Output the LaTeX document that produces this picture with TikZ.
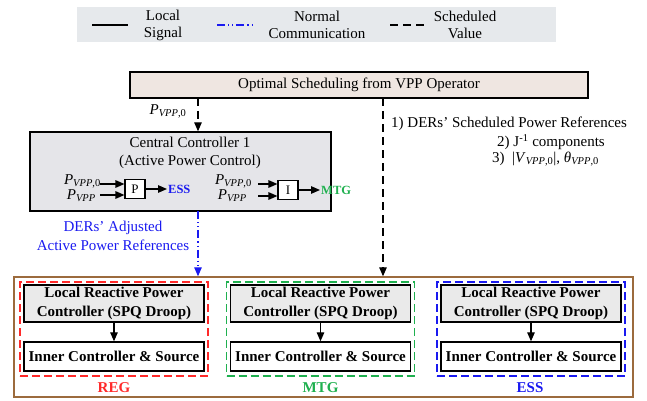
\documentclass[tikz,border=0pt]{standalone}
\usepackage{fontspec}
\setmainfont{Liberation Serif}
\usetikzlibrary{arrows.meta}
\definecolor{legfill}{HTML}{E6E9EC}
\definecolor{vppfill}{HTML}{EFE6E1}
\definecolor{ccfill}{HTML}{E5E5E9}
\definecolor{lcfill}{HTML}{EAEAEA}
\definecolor{brownline}{HTML}{9C6B3D}
\definecolor{regred}{HTML}{FF2A2A}
\definecolor{mtggreen}{HTML}{1FB04F}
\definecolor{essblue}{HTML}{1A1AF0}
\newcommand\pvar[1]{\textit{P}\textsubscript{\textit{#1}}}
\newcommand\pvzero{\textit{P}\textsubscript{\textit{VPP},0}}
\begin{document}
\begin{tikzpicture}[x=1pt,y=-1pt,
  font=\fontsize{15}{17}\selectfont,
  tip/.style={-{Triangle[length=9pt,width=7.5pt]}},
  sched/.style={dash pattern=on 8pt off 5pt, line width=1.3pt},
  normcom/.style={essblue, line width=1.3pt, dash pattern=on 8pt off 3pt on 1.2pt off 3pt on 1.2pt off 3pt},
  sig/.style={line width=1.3pt},
  blk/.style={draw, line width=1.1pt, fill=white, minimum width=20pt, minimum height=19pt, inner sep=0pt, font=\fontsize{13}{14}\selectfont},
  lcbox/.style={draw, line width=1.4pt, fill=lcfill, minimum width=180pt, minimum height=37pt, align=center, inner sep=0pt, font=\bfseries\fontsize{15}{19}\selectfont},
  icbox/.style={draw, line width=1.4pt, fill=white, minimum width=180pt, minimum height=29pt, inner sep=0pt, font=\bfseries\fontsize{15}{19}\selectfont},
  grp/.style={draw=#1, line width=1.2pt, dash pattern=on 8pt off 4pt, minimum width=188pt, minimum height=94pt, inner sep=0pt},
  tag/.style={font=\bfseries\fontsize{15}{17}\selectfont, text=#1},
  small/.style={font=\bfseries\fontsize{12.5}{14}\selectfont, text=#1, inner sep=1pt, anchor=west},
  lbl/.style={font=\fontsize{15}{11}\selectfont, align=left, inner sep=0pt, anchor=east}
]
\useasboundingbox (0,0) rectangle (647,401);

% legend strip
\node[fill=legfill, minimum width=479pt, minimum height=35pt, inner sep=0pt] (leg) at (316.5,24.5) {};
\coordinate (l1a) at (92,25);  \coordinate (l1b) at (128,25);
\coordinate (l2a) at (217,25); \coordinate (l2b) at (253,25);
\coordinate (l3a) at (390,25); \coordinate (l3b) at (428,25);
\draw[sig] (l1a) -- (l1b);
\draw[normcom] (l2a) -- (l2b);
\draw[sched] (l3a) -- (l3b);
\node[align=center] (legA) at (163,25) {Local\\Signal};
\node[align=center] (legB) at (317,25) {Normal\\Communication};
\node[align=center] (legC) at (465,25) {Scheduled\\Value};

% VPP operator
\node[draw, line width=1.4pt, fill=vppfill, minimum width=458pt, minimum height=26pt, inner sep=0pt] (vpp) at (359,85) {Optimal Scheduling from VPP Operator};

% central controller
\node[draw, line width=1.4pt, fill=ccfill, minimum width=301pt, minimum height=79pt, inner sep=0pt] (cc) at (180.5,171.5) {};
\node[align=center, font=\fontsize{15}{18}\selectfont] (cctitle) at (190,153) {Central Controller 1\\(Active Power Control)};

% P block
\node[blk] (pb) at (135,189) {P};
\coordinate (pin1) at (100,184); \coordinate (pin2) at (100,195);
\node[lbl] (plab1) at (101,181) {\pvzero};
\node[lbl] (plab2) at (96,196) {\pvar{VPP}};
\draw[sig,tip] (pin1) -- (pin1 -| pb.west);
\draw[sig,tip] (pin2) -- (pin2 -| pb.west);
\node[small=essblue] (pout) at (167,189) {ESS};
\draw[sig,tip] (pb.east) -- (pout.west);

% I block
\node[blk] (ib) at (288,190) {I};
\coordinate (iin1) at (258,184); \coordinate (iin2) at (258,196);
\node[lbl] (ilab1) at (252,181) {\pvzero};
\node[lbl] (ilab2) at (247,196) {\pvar{VPP}};
\draw[sig,tip] (iin1) -- (iin1 -| ib.west);
\draw[sig,tip] (iin2) -- (iin2 -| ib.west);
\node[small=mtggreen] (iout) at (320,190) {MTG};
\draw[sig,tip] (ib.east) -- (iout.west);

% scheduled value to central controller
\coordinate (vppL) at (198,98);
\draw[sched,tip] (vppL) -- (vppL |- cc.north);
\node (pref) at (168,111) {\pvzero};

% bottom area
\node[draw=brownline, line width=1.4pt, minimum width=619pt, minimum height=120pt, inner sep=0pt] (der) at (323.5,337) {};

\node[grp=regred]   (greg) at (114,329) {};
\node[grp=mtggreen] (gmtg) at (320.5,329) {};
\node[grp=essblue]  (gess) at (531,329) {};

\node[lcbox] (lc1) at (114,303.5) {Local Reactive Power\\Controller (SPQ Droop)};
\node[icbox] (ic1) at (114,356.5) {Inner Controller \& Source};
\node[lcbox] (lc2) at (320.5,303.5) {Local Reactive Power\\Controller (SPQ Droop)};
\node[icbox] (ic2) at (320.5,356.5) {Inner Controller \& Source};
\node[lcbox] (lc3) at (531,303.5) {Local Reactive Power\\Controller (SPQ Droop)};
\node[icbox] (ic3) at (531,356.5) {Inner Controller \& Source};
\draw[sig,tip] (lc1) -- (ic1);
\draw[sig,tip] (lc2) -- (ic2);
\draw[sig,tip] (lc3) -- (ic3);

\node[tag=regred]   (treg) at (114,388) {REG};
\node[tag=mtggreen] (tmtg) at (320.5,388) {MTG};
\node[tag=essblue]  (tess) at (530,388) {ESS};

% adjusted references (normal communication)
\coordinate (ccB) at (198,211);
\draw[normcom,tip] (ccB) -- (ccB |- der.north);
\node[align=center, text=essblue, font=\fontsize{15}{19}\selectfont] (adj) at (113,236) {DERs’ Adjusted\\Active Power References};

% scheduled values to the DER units
\coordinate (vppR) at (383,98);
\draw[sched,tip] (vppR) -- (vppR |- der.north);
\node[anchor=west, inner sep=0pt] (r1) at (391,124) {1) DERs’ Scheduled Power References};
\node[anchor=west, inner sep=0pt] (r2) at (497,142) {2) J\textsuperscript{-1} components};
\node[anchor=west, inner sep=0pt] (r3) at (492,159) {3)\ \ |\textit{V}\textsubscript{\textit{VPP},0}|, \textit{θ}\textsubscript{\textit{VPP},0}};
\end{tikzpicture}
\end{document}
